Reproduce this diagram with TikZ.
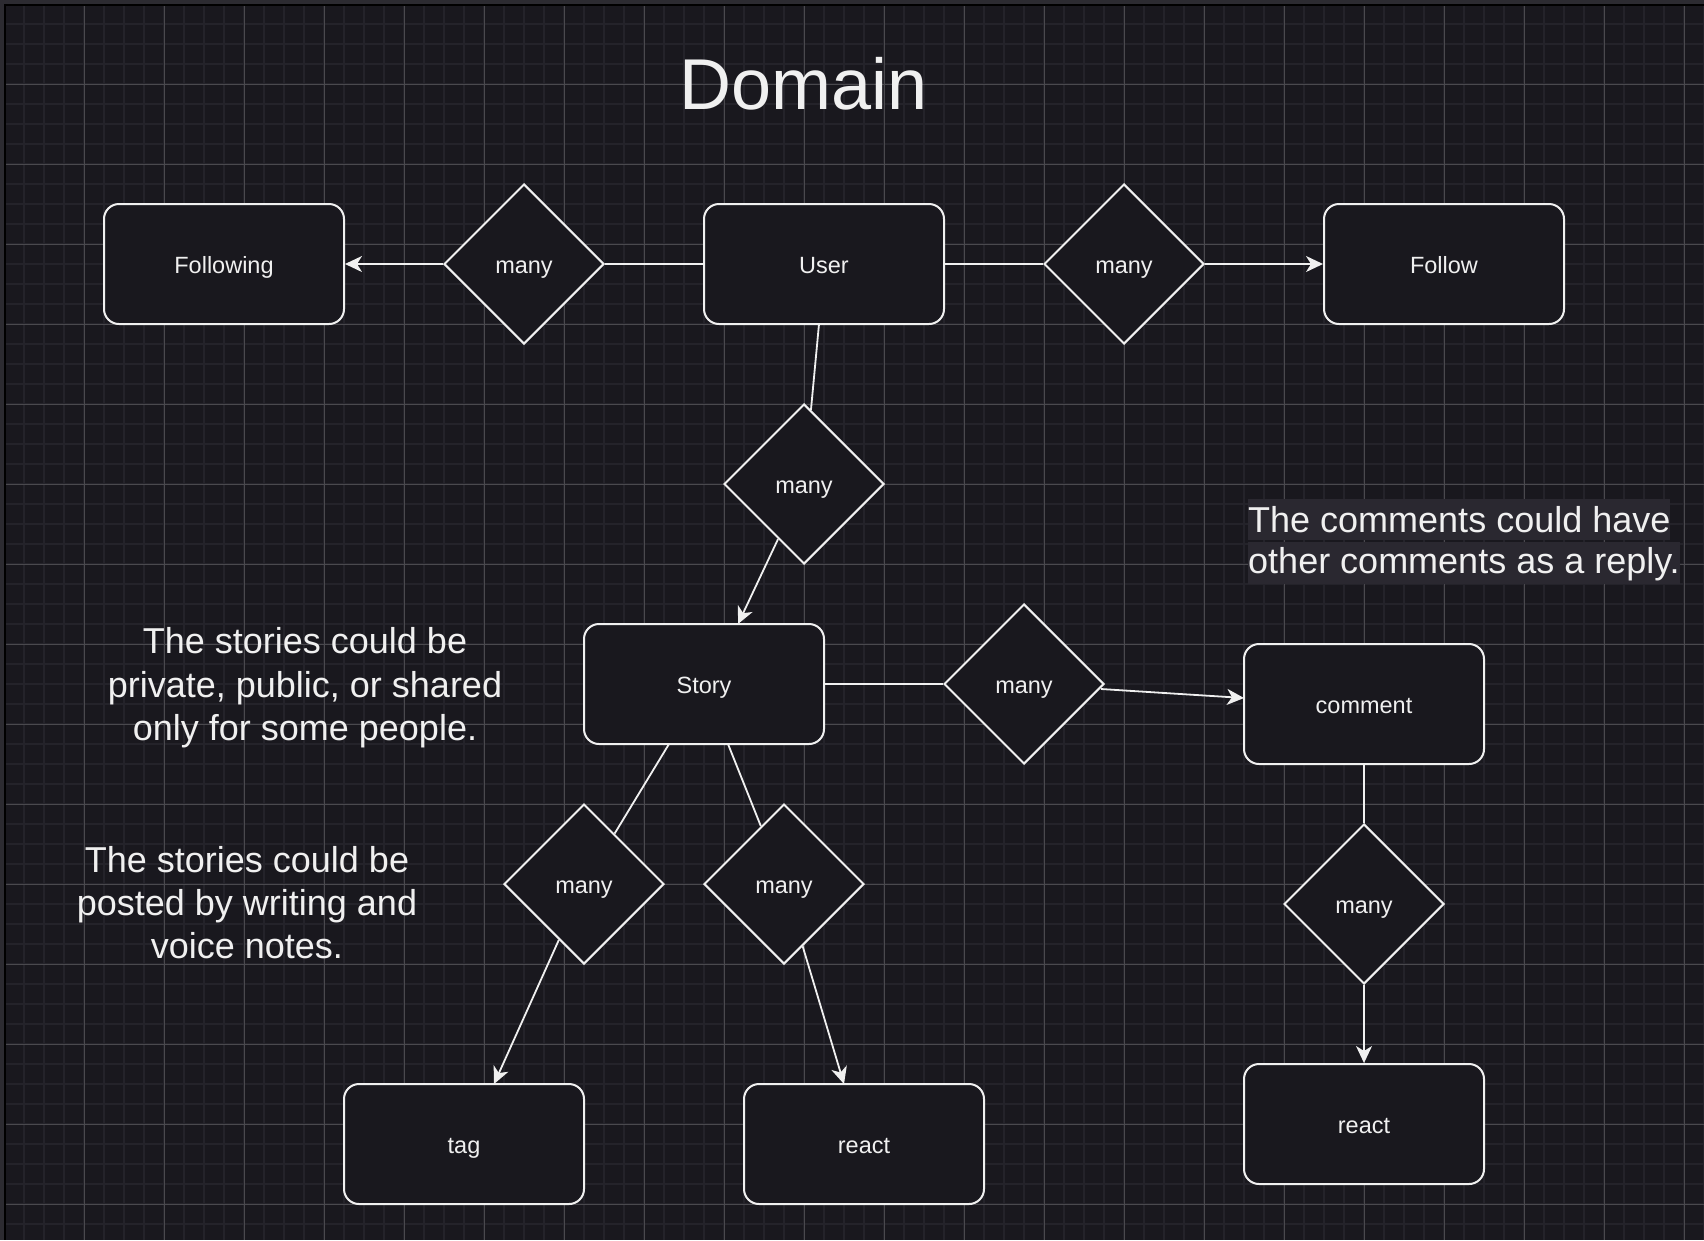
\documentclass[tikz,border=0pt]{standalone}
\usepackage{fontspec}
\setmainfont{Liberation Sans}
\usetikzlibrary{shapes.geometric,arrows.meta}
\definecolor{bg}{HTML}{19181E}
\definecolor{minorgrid}{HTML}{24232A}
\definecolor{majorgrid}{HTML}{4A494E}
\definecolor{framegrey}{HTML}{2C2B31}
\definecolor{ink}{HTML}{F0F0F0}
\definecolor{hlfill}{HTML}{2A2830}
\tikzset{
  entity/.style={draw=ink, fill=bg, line width=2pt, rounded corners=15pt,
    minimum width=240pt, minimum height=120pt, inner sep=0pt,
    text height=18pt, text depth=0pt,
    text=ink, font=\fontsize{23.5}{28}\selectfont},
  rel/.style={diamond, draw=ink, fill=bg, line width=2pt, aspect=1,
    minimum width=160pt, minimum height=160pt, inner sep=0pt,
    text height=18pt, text depth=0pt,
    text=ink, font=\fontsize{23.5}{28}\selectfont},
  conn/.style={draw=ink, line width=1.8pt},
  arr/.style={conn, -{Stealth[length=17pt, width=16pt, inset=5pt]}},
  notetext/.style={text=ink, inner sep=0pt, font=\fontsize{36}{43}\selectfont},
  hltext/.style={notetext, fill=hlfill},
  titletext/.style={text=ink, inner sep=0pt, font=\fontsize{72}{86}\selectfont},
}
\begin{document}
\begin{tikzpicture}[x=1pt,y=-1pt]
\useasboundingbox (0,0) rectangle (1704,1240);
\fill[bg] (0,0) rectangle (1704,1240);
% grid
\foreach \g in {4,24,...,1704} {
  \draw[minorgrid, line width=1.6pt] (\g,0) -- (\g,1240);
}
\foreach \g in {4,24,...,1240} {
  \draw[minorgrid, line width=1.6pt] (0,\g) -- (1704,\g);
}
\foreach \g in {4,84,...,1704} {
  \draw[majorgrid, line width=1pt] (\g,0) -- (\g,1240);
}
\foreach \g in {4,84,...,1240} {
  \draw[majorgrid, line width=1pt] (0,\g) -- (1704,\g);
}
% frame
\fill[framegrey] (0,0) rectangle (1704,3.5);
\fill[framegrey] (0,0) rectangle (3.5,1240);
\fill[black] (3.5,3.5) rectangle (1704,6);
\fill[black] (3.5,3.5) rectangle (6,1240);

% title
\node[titletext, anchor=base] (title) at (804,109) {Domain};

% entities and relations
\node[entity] (following) at (224,264) {Following};
\node[rel] (d1) at (524,264) {many};
\node[entity] (user) at (824,264) {User};
\node[rel] (d2) at (1124,264) {many};
\node[entity] (follow) at (1444,264) {Follow};
\node[rel] (d3) at (804,484) {many};
\node[entity] (story) at (704,684) {Story};
\node[rel] (d5) at (1024,684) {many};
\node[entity] (comment) at (1364,704) {comment};
\node[rel] (d6) at (1364,904) {many};
\node[entity] (react2) at (1364,1124) {react};
\node[rel] (d4) at (584,884) {many};
\node[rel] (d7) at (784,884) {many};
\node[entity] (tag) at (464,1144) {tag};
\node[entity] (react1) at (864,1144) {react};

% connector end points
\coordinate (u3) at (819,324);
\coordinate (s3) at (738,624);
\coordinate (d5o) at (1101,689);
\coordinate (c5) at (1244,698);
\coordinate (s4) at (669,744);
\coordinate (s7) at (728,744);
\coordinate (t4) at (494,1084);
\coordinate (r7) at (844,1084);

% connectors
\draw[conn] (user) -- (d1);
\draw[arr] (d1) -- (following);
\draw[conn] (user) -- (d2);
\draw[arr] (d2) -- (follow);
\draw[conn] (u3) -- (d3);
\draw[arr] (d3) -- (s3);
\draw[conn] (story) -- (d5);
\draw[arr] (d5o) -- (c5);
\draw[conn] (s4) -- (d4);
\draw[conn] (s7) -- (d7);
\draw[arr] (d4) -- (t4);
\draw[arr] (d7) -- (r7);
\draw[conn] (comment) -- (d6);
\draw[arr] (d6) -- (react2);

% notes
\node[notetext, anchor=base] (n1a) at (305,653) {The stories could be};
\node[notetext, anchor=base] (n1b) at (305,697) {private, public, or shared};
\node[notetext, anchor=base] (n1c) at (305,740) {only for some people.};
\node[notetext, anchor=base] (n2a) at (247,872) {The stories could be};
\node[notetext, anchor=base] (n2b) at (247,915) {posted by writing and};
\node[notetext, anchor=base] (n2c) at (247,958) {voice notes.};
\node[hltext, anchor=base west, text height=33pt, text depth=8pt] (n3a) at (1248,532) {The comments could have};
\node[hltext, anchor=base west, text height=31pt, text depth=11pt] (n3b) at (1248,573) {other comments as a reply.};
\end{tikzpicture}
\end{document}
